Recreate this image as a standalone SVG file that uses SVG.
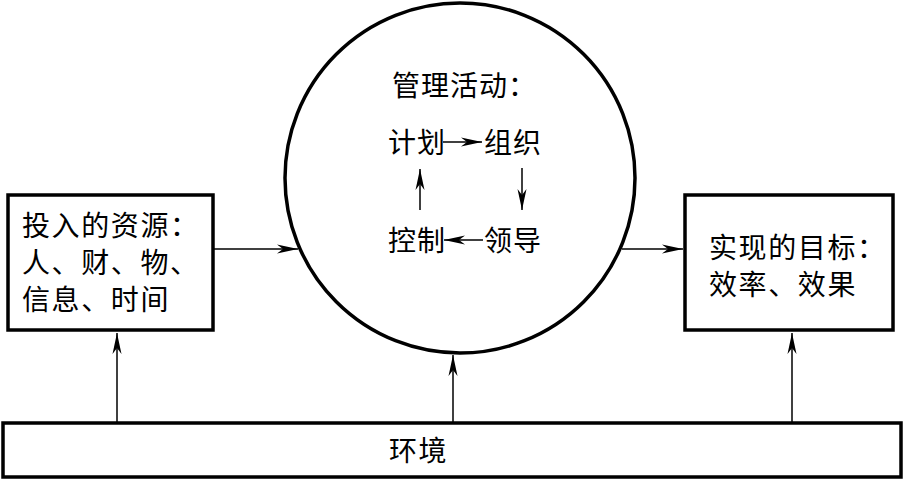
<svg xmlns="http://www.w3.org/2000/svg" width="904" height="489" viewBox="0 0 904 489">
<style>
.box{fill:#fff;stroke:#000;stroke-width:3.5}
.ln{fill:none;stroke:#000;stroke-width:1.5}
.t{font-family:"Noto Sans CJK SC","Noto Sans CJK JP",sans-serif;font-size:28px;letter-spacing:1.6px;fill:#000}
.ts{font-family:"Noto Sans CJK SC","Noto Sans CJK JP",sans-serif;font-size:28px;letter-spacing:1px;fill:#000}
</style>
<defs>
<marker id="ah" markerUnits="userSpaceOnUse" viewBox="-22 -6 24 12" refX="0" refY="0" markerWidth="24" markerHeight="12" orient="auto">
<path d="M0,0 L-21,-4.5 L-15,0 L-21,4.5 Z" fill="#000"/>
</marker>
</defs>
<rect width="904" height="489" fill="#fff"/>
<g id="connectors">
<line class="ln" x1="213" y1="249" x2="298" y2="249" marker-end="url(#ah)"/>
<line class="ln" x1="622" y1="249" x2="683" y2="249" marker-end="url(#ah)"/>
<line class="ln" x1="117" y1="423" x2="117" y2="333" marker-end="url(#ah)"/>
<line class="ln" x1="453" y1="423" x2="453" y2="355" marker-end="url(#ah)"/>
<line class="ln" x1="792" y1="423" x2="792" y2="333" marker-end="url(#ah)"/>
<line class="ln" x1="443" y1="142" x2="482" y2="142" marker-end="url(#ah)"/>
<line class="ln" x1="522" y1="168" x2="522" y2="210" marker-end="url(#ah)"/>
<line class="ln" x1="483" y1="240" x2="444" y2="240" marker-end="url(#ah)"/>
<line class="ln" x1="420" y1="210" x2="420" y2="169" marker-end="url(#ah)"/>
</g>
<g id="resources">
<rect class="box" x="8" y="195" width="205" height="135"/>
<text class="t" x="22" y="236">投入的资源：</text>
<text class="t" x="22" y="273">人、财、物、</text>
<text class="t" x="22" y="310">信息、时间</text>
</g>
<g id="management">
<circle cx="460" cy="178" r="175" fill="none" stroke="#000" stroke-width="3.5"/>
<text class="ts" x="392" y="96">管理活动：</text>
<text class="ts" x="388" y="153">计划</text>
<text class="ts" x="484" y="153">组织</text>
<text class="ts" x="388" y="251">控制</text>
<text class="ts" x="484" y="251">领导</text>
</g>
<g id="goals">
<rect class="box" x="685" y="195" width="208" height="135"/>
<text class="t" x="709" y="258">实现的目标：</text>
<text class="t" x="709" y="295">效率、效果</text>
</g>
<g id="environment">
<rect class="box" x="3" y="423" width="898" height="54"/>
<text class="t" x="389" y="461">环境</text>
</g>
</svg>
